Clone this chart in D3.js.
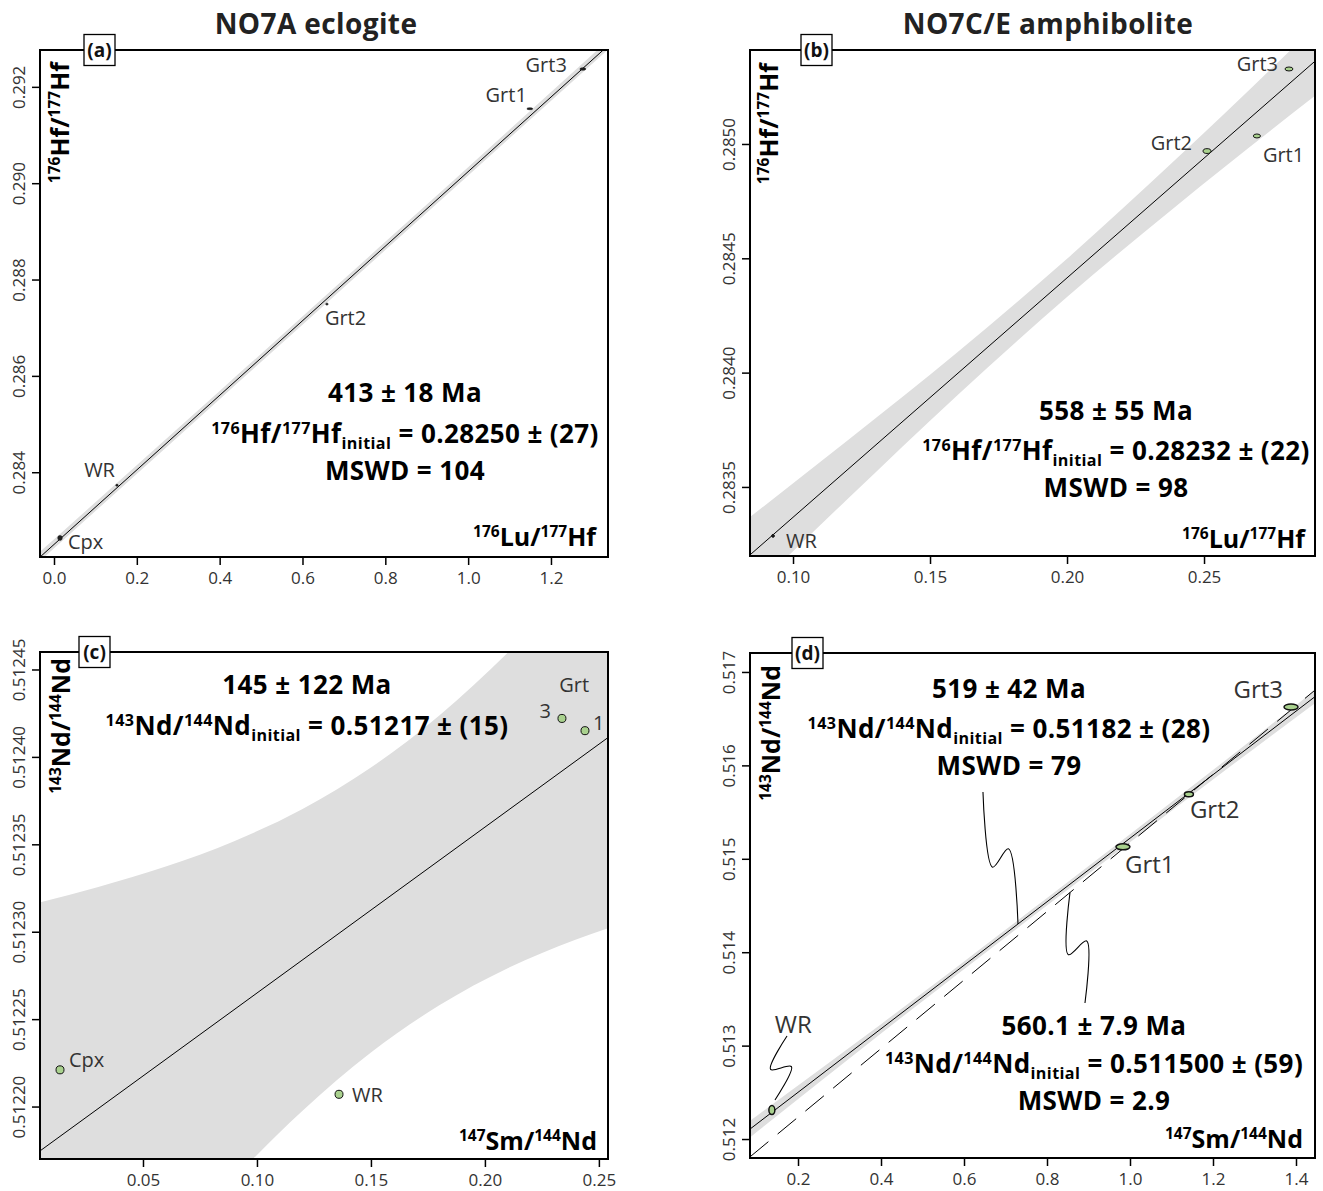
<!DOCTYPE html>
<html><head><meta charset="utf-8">
<script src="https://cdn.jsdelivr.net/npm/d3@7"></script>
<style>
body{margin:0;background:#fff;}
svg{display:block;font-family:"Open Sans",sans-serif;}
text{white-space:pre;}
</style>
</head><body>
<svg id="chart" width="1323" height="1191"></svg>
<script>
// ---------------- DATA ----------------
const titles = ["NO7A eclogite", "NO7C/E amphibolite"];
const panelTags = ["(a)", "(b)", "(c)", "(d)"];

// Panel (a) Lu-Hf NO7A
const aXDomain = [-0.0338, 1.3377], aYDomain = [0.28224, 0.292765];
const aXTicks = [0.0, 0.2, 0.4, 0.6, 0.8, 1.0, 1.2];
const aYTicks = [0.284, 0.286, 0.288, 0.290, 0.292];
const aNames = ["Cpx", "WR", "Grt2", "Grt1", "Grt3"];
const aX = [0.0145, 0.152, 0.659, 1.149, 1.277];
const aY = [0.282635, 0.28373, 0.28749, 0.291545, 0.29237];
const aRx = [0.0055, 0.003, 0.003, 0.0072, 0.0072];
const aRy = [0.00005, 0.00002, 0.00002, 0.00002, 0.000025];
const aFitX = [-0.034, 1.338], aFitY = [0.2822368, 0.2928561];
const aBandX = [-0.04, 0.4, 0.8, 1.34];
const aBandLo = [0.2821104, 0.285516, 0.288612, 0.2927916];
const aBandHi = [0.2823004, 0.285686, 0.288782, 0.2929816];

// Panel (b) Lu-Hf NO7C/E
const bXDomain = [0.0843, 0.2905], bYDomain = [0.283198, 0.285411];
const bXTicks = [0.10, 0.15, 0.20, 0.25];
const bYTicks = [0.2835, 0.2840, 0.2845, 0.2850];
const bNames = ["WR", "Grt2", "Grt1", "Grt3"];
const bX = [0.0927, 0.2511, 0.2693, 0.281];
const bY = [0.283286, 0.284969, 0.285035, 0.285328];
const bRx = [0.0005, 0.00146, 0.0013, 0.00146];
const bRy = [0.000006, 0.0000105, 0.0000087, 0.0000087];
const bFitX = [0.0843, 0.2905], bFitY = [0.2832028, 0.2853621];
const bBandX = [0.084, 0.12, 0.16, 0.20, 0.24, 0.291];
const bBandLo = [0.2830337, 0.2834486, 0.2839015, 0.2843308, 0.2847303, 0.2852154];
const bBandHi = [0.2833657, 0.2837046, 0.2840895, 0.2844980, 0.2849363, 0.2855194];

// Panel (c) Sm-Nd NO7A
const cXDomain = [0.00482, 0.254], cYDomain = [0.51217, 0.51246];
const cXTicks = [0.05, 0.10, 0.15, 0.20, 0.25];
const cYTicks = [0.51220, 0.51225, 0.51230, 0.51235, 0.51240, 0.51245];
const cNames = ["Cpx", "WR", "3", "1"];
const cX = [0.0136, 0.136, 0.2338, 0.2439];
const cY = [0.512221, 0.512207, 0.512422, 0.512415];
const cRx = [0.00175, 0.00175, 0.00175, 0.00175];
const cRy = [0.0000023, 0.0000023, 0.0000023, 0.0000023];
const cFitX = [0.0048, 0.255], cFitY = [0.5121746, 0.5124120];
const cBandX = [0.005, 0.03, 0.06, 0.09, 0.12, 0.15, 0.18, 0.21, 0.24, 0.255];
const cBandLo = [0.5120326, 0.5120715, 0.5121165, 0.5121590, 0.5121976, 0.5122309, 0.5122579, 0.5122791, 0.5122955, 0.5123025];
const cBandHi = [0.5123168, 0.5123255, 0.5123373, 0.5123518, 0.5123702, 0.5123939, 0.5124237, 0.5124595, 0.5125001, 0.5125215];
const cGroupLabel = ["Grt", 0.2392, 0.512437];

// Panel (d) Sm-Nd NO7C/E
const dXDomain = [0.0843, 1.4458], dYDomain = [0.511797, 0.517203];
const dXTicks = [0.2, 0.4, 0.6, 0.8, 1.0, 1.2, 1.4];
const dYTicks = [0.512, 0.513, 0.514, 0.515, 0.516, 0.517];
const dNames = ["WR", "Grt1", "Grt2", "Grt3"];
const dX = [0.137, 0.983, 1.142, 1.388];
const dY = [0.51231, 0.515128, 0.51569, 0.516625];
const dRx = [0.0072, 0.0169, 0.0108, 0.0169];
const dRy = [0.000048, 0.000032, 0.000027, 0.000032];
const dFitX = [0.084, 1.446], dFitY = [0.5121056, 0.5167363];
const dAltFitX = [0.084, 1.446], dAltFitY = [0.5118082, 0.5168064];
const dBandX = [0.08, 0.4, 0.8, 1.2, 1.45];
const dBandLo = [0.512002, 0.51313, 0.51450, 0.51585, 0.51668];
const dBandHi = [0.512182, 0.51323, 0.51458, 0.51595, 0.51682];
// leader squiggles: [x1, y1, x2, y2] in data units
const dLeaders = [
  [0.1735, 0.513103, 0.1445, 0.512418],
  [0.6457, 0.515715, 0.7301, 0.514302],
  [0.8554, 0.514639, 0.8915, 0.513456]
];

// Text content
const statsA = [
  [["413 ± 18 Ma"]],
  [["176","sup"],["Hf/"],["177","sup"],["Hf"],["initial","sub"],[" = 0.28250 ± (27)"]],
  [["MSWD = 104"]]
];
const statsB = [
  [["558 ± 55 Ma"]],
  [["176","sup"],["Hf/"],["177","sup"],["Hf"],["initial","sub"],[" = 0.28232 ± (22)"]],
  [["MSWD = 98"]]
];
const statsC = [
  [["145 ± 122 Ma"]],
  [["143","sup"],["Nd/"],["144","sup"],["Nd"],["initial","sub"],[" = 0.51217 ± (15)"]]
];
const statsD1 = [
  [["519 ± 42 Ma"]],
  [["143","sup"],["Nd/"],["144","sup"],["Nd"],["initial","sub"],[" = 0.51182 ± (28)"]],
  [["MSWD = 79"]]
];
const statsD2 = [
  [["560.1 ± 7.9 Ma"]],
  [["143","sup"],["Nd/"],["144","sup"],["Nd"],["initial","sub"],[" = 0.511500 ± (59)"]],
  [["MSWD = 2.9"]]
];
const labHfY = [["176","sup"],["Hf/"],["177","sup"],["Hf"]];
const labLuX = [["176","sup"],["Lu/"],["177","sup"],["Hf"]];
const labNdY = [["143","sup"],["Nd/"],["144","sup"],["Nd"]];
const labSmX = [["147","sup"],["Sm/"],["144","sup"],["Nd"]];

// ---------------- DRAWING ----------------
const svg = d3.select("#chart");

function rich(g, x, y, segs, size, opts = {}) {
  const t = g.append("text").attr("x", x).attr("y", y)
    .attr("font-size", size)
    .attr("text-anchor", opts.anchor || "start")
    .attr("font-weight", opts.weight || 700)
    .attr("fill", opts.fill || "#000");
  if (opts.spacing) t.attr("letter-spacing", opts.spacing);
  if (opts.transform) t.attr("transform", opts.transform);
  let cur = 0;
  segs.forEach(s => {
    const txt = s[0], type = s[1];
    const target = type === "sup" ? -0.36 * size : type === "sub" ? 0.24 * size : 0;
    const ts = t.append("tspan").text(txt).attr("dy", (target - cur).toFixed(2));
    if (type) ts.attr("font-size", size * 0.62);
    cur = target;
  });
  return t;
}

function squiggle(p1, p2, w) {
  const dx = p2[0] - p1[0], dy = p2[1] - p1[1];
  const len = Math.hypot(dx, dy);
  const ux = dx / len, uy = dy / len;
  const nx = -uy, ny = ux;
  const pt = (t, o) => [p1[0] + dx * t + nx * o, p1[1] + dy * t + ny * o];
  return [p1, pt(0.55, w), pt(0.45, -w), p2];
}

function panel(cfg) {
  const {L, T, R, B} = cfg.frame;
  const x = d3.scaleLinear().domain(cfg.xDomain).range([L, R]);
  const y = d3.scaleLinear().domain(cfg.yDomain).range([B, T]);
  const g = svg.append("g");
  const clipId = "clip" + cfg.id;
  svg.append("defs").append("clipPath").attr("id", clipId)
    .append("rect").attr("x", L).attr("y", T).attr("width", R - L).attr("height", B - T);
  const inner = g.append("g").attr("clip-path", `url(#${clipId})`);

  const band = cfg.bandX.map((v, i) => ({x: v, lo: cfg.bandLo[i], hi: cfg.bandHi[i]}));
  inner.append("path").datum(band)
    .attr("fill", "#dedede")
    .attr("d", d3.area().x(d => x(d.x)).y0(d => y(d.lo)).y1(d => y(d.hi)).curve(d3.curveMonotoneX));

  const line = d3.line().x(d => x(d[0])).y(d => y(d[1]));
  if (cfg.altFitX) {
    inner.append("path").datum(cfg.altFitX.map((v, i) => [v, cfg.altFitY[i]]))
      .attr("d", line).attr("fill", "none").attr("stroke", "#000")
      .attr("stroke-width", 1).attr("stroke-dasharray", "24,12");
  }
  inner.append("path").datum(cfg.fitX.map((v, i) => [v, cfg.fitY[i]]))
    .attr("d", line).attr("fill", "none").attr("stroke", "#000").attr("stroke-width", 1);

  cfg.px.forEach((v, i) => {
    const cx = x(v), cy = y(cfg.py[i]);
    const rx = Math.max(0.8, x(v + cfg.rx[i]) - cx);
    const ry = Math.max(0.8, cy - y(cfg.py[i] + cfg.ry[i]));
    inner.append("ellipse").attr("cx", cx).attr("cy", cy).attr("rx", rx).attr("ry", ry)
      .attr("fill", cfg.fill(i)).attr("stroke", "#111").attr("stroke-width", cfg.sw);
  });

  cfg.names.forEach((n, i) => {
    const off = cfg.labelOff[i];
    g.append("text").attr("x", x(cfg.px[i]) + off[0]).attr("y", y(cfg.py[i]) + off[1])
      .attr("text-anchor", off[2]).attr("font-size", cfg.labelSize).attr("fill", "#333").text(n);
  });

  if (cfg.leaders) {
    const sl = d3.line().curve(d3.curveCatmullRom.alpha(0.5));
    cfg.leaders.forEach(l => {
      const p1 = [x(l[0]), y(l[1])], p2 = [x(l[2]), y(l[3])];
      g.append("path").attr("d", sl(squiggle(p1, p2, 10)))
        .attr("fill", "none").attr("stroke", "#000").attr("stroke-width", 1.1);
    });
  }

  const ax = g.append("g").attr("transform", `translate(0,${B})`)
    .call(d3.axisBottom(x).tickValues(cfg.xTicks).tickFormat(d3.format(cfg.xFmt)).tickSize(8).tickPadding(7));
  const ay = g.append("g").attr("transform", `translate(${L},0)`)
    .call(d3.axisLeft(y).tickValues(cfg.yTicks).tickFormat(d3.format(cfg.yFmt)).tickSize(8));
  [ax, ay].forEach(a => {
    a.select(".domain").remove();
    a.selectAll("line").attr("stroke", "#000").attr("stroke-width", 1.5);
    a.selectAll("text").attr("font-size", 17).attr("fill", "#333")
      .attr("font-family", '"Open Sans",sans-serif');
  });
  ay.selectAll("text").attr("transform", "rotate(-90)").attr("x", 0).attr("y", -15)
    .attr("dy", 0).attr("text-anchor", "middle");

  g.append("rect").attr("x", L).attr("y", T).attr("width", R - L).attr("height", B - T)
    .attr("fill", "none").attr("stroke", "#000").attr("stroke-width", 2);

  const tb = cfg.tagX;
  g.append("rect").attr("x", tb).attr("y", T - 15.5).attr("width", 31).attr("height", 31)
    .attr("fill", "#fff").attr("stroke", "#000").attr("stroke-width", 1.3);
  g.append("text").attr("x", tb + 15.5).attr("y", T + 6.5).attr("text-anchor", "middle")
    .attr("font-size", 19).attr("font-weight", 700).attr("fill", "#111").text(cfg.tag);

  rich(g, cfg.yLab[0], cfg.yLab[1], cfg.yLabSegs, 25,
    {anchor: "end", weight: 700, transform: `rotate(-90,${cfg.yLab[0]},${cfg.yLab[1]})`});
  rich(g, cfg.xLab[0], cfg.xLab[1], cfg.xLabSegs, 25, {anchor: "end", weight: 700});

  cfg.stats.forEach(block => {
    block.lines.forEach((segs, i) => {
      rich(g, block.cx, block.ys[i], segs, 26, {anchor: "middle", weight: 700, spacing: 0.4});
    });
  });

  return {x, y, g};
}

svg.append("text").attr("x", 316).attr("y", 34).attr("text-anchor", "middle")
  .attr("font-size", 28).attr("font-weight", 700).attr("letter-spacing", 0.4)
  .attr("fill", "#222").text(titles[0]);
svg.append("text").attr("x", 1048).attr("y", 34).attr("text-anchor", "middle")
  .attr("font-size", 28).attr("font-weight", 700).attr("letter-spacing", 0.4)
  .attr("fill", "#222").text(titles[1]);

const green = "#a9d18e";

panel({
  id: "a", tag: panelTags[0], tagX: 84,
  frame: {L: 40, T: 50, R: 608, B: 557},
  xDomain: aXDomain, yDomain: aYDomain, xTicks: aXTicks, yTicks: aYTicks, xFmt: ".1f", yFmt: ".3f",
  px: aX, py: aY, rx: aRx, ry: aRy, names: aNames,
  fill: () => "#222", sw: 0.6, labelSize: 20,
  labelOff: [[8, 11, "start"], [-2, -8, "end"], [-2, 21, "start"], [-3, -7, "end"], [-16, 3, "end"]],
  fitX: aFitX, fitY: aFitY, bandX: aBandX, bandLo: aBandLo, bandHi: aBandHi,
  yLab: [69, 62], yLabSegs: labHfY, xLab: [596, 546], xLabSegs: labLuX,
  stats: [{cx: 405, ys: [402, 443, 480], lines: statsA}]
});

panel({
  id: "b", tag: panelTags[1], tagX: 801,
  frame: {L: 750, T: 50, R: 1315, B: 556},
  xDomain: bXDomain, yDomain: bYDomain, xTicks: bXTicks, yTicks: bYTicks, xFmt: ".2f", yFmt: ".4f",
  px: bX, py: bY, rx: bRx, ry: bRy, names: bNames,
  fill: i => i === 0 ? "#222" : green, sw: 1, labelSize: 20,
  labelOff: [[13, 12, "start"], [-15, -1, "end"], [6, 26, "start"], [-11, 2, "end"]],
  fitX: bFitX, fitY: bFitY, bandX: bBandX, bandLo: bBandLo, bandHi: bBandHi,
  yLab: [778, 63], yLabSegs: labHfY, xLab: [1305, 548], xLabSegs: labLuX,
  stats: [{cx: 1116, ys: [420, 460, 497], lines: statsB}]
});

const pc = panel({
  id: "c", tag: panelTags[2], tagX: 79,
  frame: {L: 40, T: 652, R: 608, B: 1159},
  xDomain: cXDomain, yDomain: cYDomain, xTicks: cXTicks, yTicks: cYTicks, xFmt: ".2f", yFmt: ".5f",
  px: cX, py: cY, rx: cRx, ry: cRy, names: cNames,
  fill: () => green, sw: 1, labelSize: 20,
  labelOff: [[9, -3, "start"], [13, 8, "start"], [-11, 0, "end"], [8, -1, "start"]],
  fitX: cFitX, fitY: cFitY, bandX: cBandX, bandLo: cBandLo, bandHi: cBandHi,
  yLab: [70, 658], yLabSegs: labNdY, xLab: [597, 1150], xLabSegs: labSmX,
  stats: [{cx: 307, ys: [694, 735], lines: statsC}]
});
pc.g.append("text").attr("x", pc.x(cGroupLabel[1])).attr("y", pc.y(cGroupLabel[2]))
  .attr("text-anchor", "middle").attr("font-size", 20).attr("fill", "#333").text(cGroupLabel[0]);

panel({
  id: "d", tag: panelTags[3], tagX: 792,
  frame: {L: 750, T: 653, R: 1315, B: 1158},
  xDomain: dXDomain, yDomain: dYDomain, xTicks: dXTicks, yTicks: dYTicks, xFmt: ".1f", yFmt: ".3f",
  px: dX, py: dY, rx: dRx, ry: dRy, names: dNames,
  fill: () => green, sw: 1.5, labelSize: 24,
  labelOff: [[3, -77, "start"], [2, 26, "start"], [1, 24, "start"], [-8, -9, "end"]],
  fitX: dFitX, fitY: dFitY, altFitX: dAltFitX, altFitY: dAltFitY,
  bandX: dBandX, bandLo: dBandLo, bandHi: dBandHi, leaders: dLeaders,
  yLab: [780, 665], yLabSegs: labNdY, xLab: [1303, 1148], xLabSegs: labSmX,
  stats: [{cx: 1009, ys: [698, 738, 775], lines: statsD1},
          {cx: 1094, ys: [1035, 1073, 1110], lines: statsD2}]
});
</script>
</body></html>
